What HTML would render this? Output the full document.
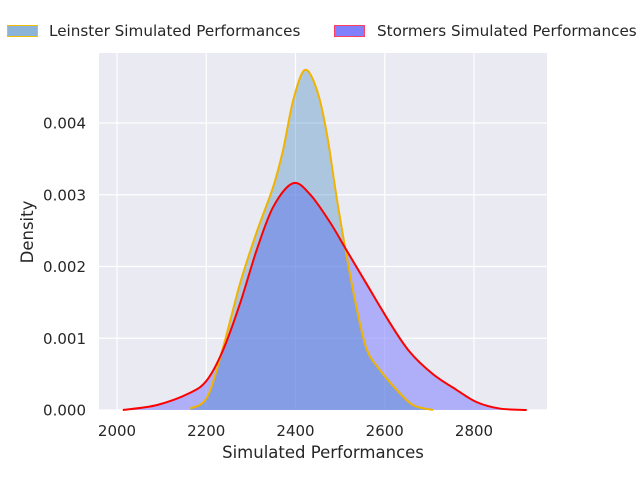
<!DOCTYPE html>
<html><head><meta charset="utf-8"><style>
body{margin:0;background:#fff;}
svg{display:block;font-family:"DejaVu Sans","Liberation Sans",sans-serif;}
</style></head><body>
<svg id="chart" width="640" height="480">
<rect x="99" y="53" width="448" height="357" fill="#eaeaf2"/>
<g id="grid"></g>
<g id="fills"></g>
<g id="lines"></g>
<g id="ticks" font-size="15" fill="#262626"></g>
<text x="323" y="458" text-anchor="middle" font-size="16.5" fill="#262626">Simulated Performances</text>
<text transform="translate(33,232) rotate(-90)" text-anchor="middle" font-size="16.5" fill="#262626">Density</text>
<g font-size="15.2" fill="#262626">
<g>
<rect x="7.5" y="25.5" width="30" height="11" fill="#8cb4d8" stroke="#f0c000" stroke-width="1"/>
<text x="49" y="36">Leinster Simulated Performances</text></g>
<g>
<rect x="334.5" y="25.5" width="30" height="11" fill="#8080ff" stroke="#ff4060" stroke-width="1"/>
<text x="377" y="36">Stormers Simulated Performances</text></g>
</g>
</svg>
<script>
const xTicks=[2000,2200,2400,2600,2800];
const yTicks=[0,0.001,0.002,0.003,0.004];
const yTickLabels=["0.000","0.001","0.002","0.003","0.004"];
const leinsterX=[2164,2202,2238,2276,2313,2350,2372,2395,2421,2448,2470,2493,2515,2538,2560,2589,2627,2663,2708];
const leinsterY=[0.00002,0.00018,0.00088,0.00177,0.00248,0.00311,0.00362,0.00432,0.00474,0.00446,0.00386,0.00293,0.00213,0.00139,0.00084,0.00056,0.00028,0.00007,0];
const stormersX=[2013,2090,2164,2202,2238,2276,2313,2350,2394,2432,2477,2515,2560,2612,2656,2708,2761,2806,2858,2918];
const stormersY=[0,0.00007,0.00024,0.00042,0.00084,0.00149,0.00223,0.00283,0.00316,0.00301,0.00262,0.00222,0.00175,0.00121,0.00081,0.00050,0.00028,0.00011,0.00002,0];
const sx=v=>117+(v-2000)*0.44625;
const sy=d=>410-d*71750;
const NS="http://www.w3.org/2000/svg";
function mk(t,a,p){const e=document.createElementNS(NS,t);for(const k in a)e.setAttribute(k,a[k]);p.appendChild(e);return e;}
const grid=document.getElementById('grid'),ticks=document.getElementById('ticks'),fills=document.getElementById('fills'),lines=document.getElementById('lines');
xTicks.forEach(v=>{
const l=mk('line',{x1:sx(v),x2:sx(v),y1:53,y2:410,stroke:'#fff','stroke-width':1.2},grid);


const t=mk('text',{x:sx(v),y:436,'text-anchor':'middle'},ticks);t.textContent=v;


});
yTicks.forEach((v,i)=>{
const l=mk('line',{x1:99,x2:547,y1:sy(v),y2:sy(v),stroke:'#fff','stroke-width':1.2},grid);


const t=mk('text',{x:86,y:sy(v)+5.5,'text-anchor':'end'},ticks);t.textContent=yTickLabels[i];


});
function curve(xs,ys){
const p=xs.map((x,i)=>[sx(x),sy(ys[i])]);
let d=`M${p[0][0]},${p[0][1]}`;
for(let i=0;i<p.length-1;i++){
const p0=p[i-1]||p[i],p1=p[i],p2=p[i+1],p3=p[i+2]||p2;
d+=` C${p1[0]+(p2[0]-p0[0])/6},${p1[1]+(p2[1]-p0[1])/6} ${p2[0]-(p3[0]-p1[0])/6},${p2[1]-(p3[1]-p1[1])/6} ${p2[0]},${p2[1]}`;
}
return d;
}
function draw(xs,ys,fill,op,stroke,name){
const c=curve(xs,ys);
const f=mk('path',{d:c+` L${sx(xs[xs.length-1])},${sy(0)} L${sx(xs[0])},${sy(0)} Z`,fill:fill,'fill-opacity':op},fills);


const l=mk('path',{d:c,fill:'none',stroke:stroke,'stroke-width':2},lines);


}
draw(stormersX,stormersY,'#7c7cff',0.55,'#ff0000','stormers-kde');
draw(leinsterX,leinsterY,'#307cbb',0.33,'#f0b400','leinster-kde');
lines.appendChild(lines.firstChild);
</script>
</body></html>
